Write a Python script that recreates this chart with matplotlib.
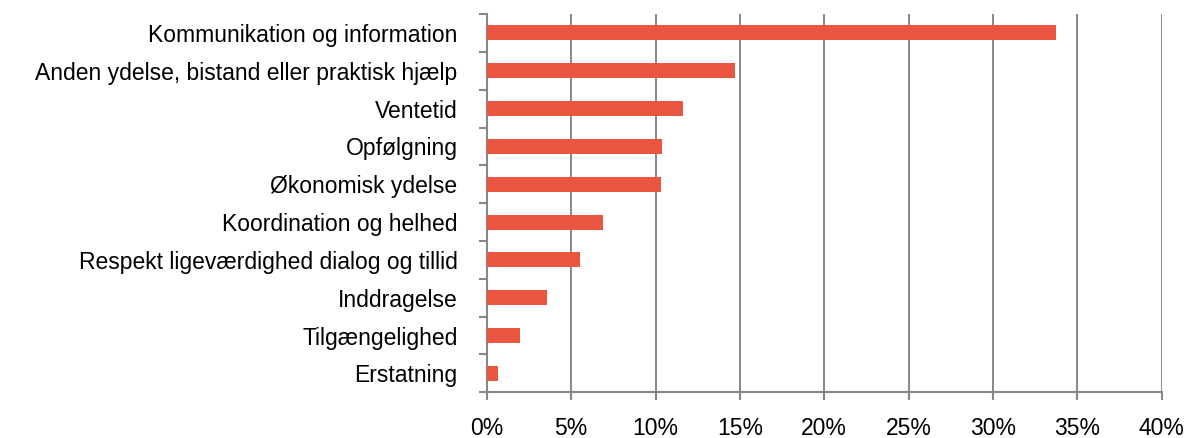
import numpy as np
import matplotlib.pyplot as plt
from matplotlib.ticker import FixedLocator

plt.rcParams['font.family'] = ['Liberation Sans', 'DejaVu Sans']

# Categories from top to bottom, share of answers in percent
categories = [
    'Kommunikation og information',
    'Anden ydelse, bistand eller praktisk hjælp',
    'Ventetid',
    'Opfølgning',
    'Økonomisk ydelse',
    'Koordination og helhed',
    'Respekt ligeværdighed dialog og tillid',
    'Inddragelse',
    'Tilgængelighed',
    'Erstatning',
]
values = [33.7, 14.7, 11.65, 10.4, 10.3, 6.9, 5.5, 3.6, 2.0, 0.65]
xticks = [0, 5, 10, 15, 20, 25, 30, 35, 40]

grey = '#878787'
bar_color = '#E9553F'

fig = plt.figure(figsize=(11.88, 4.38), dpi=100)
ax = fig.add_axes([0.4097, 0.1043, 0.978 - 0.4097, 0.968 - 0.1043])

y = np.arange(len(categories))[::-1]
ax.barh(y, values, height=0.4, color=bar_color, zorder=3)

ax.set_xlim(0, 40)
ax.set_ylim(-0.5, len(categories) - 0.5)

ax.set_xticks(xticks)
ax.set_xticklabels([f'{t}%' for t in xticks])
ax.grid(axis='x', color=grey, linewidth=1.4, zorder=0)

ax.set_yticks(y)
ax.set_yticklabels(categories)
ax.yaxis.set_minor_locator(FixedLocator(np.arange(-0.5, len(categories), 1.0)))

ax.tick_params(axis='y', which='major', length=0, pad=21, labelsize=16.5, colors='black')
ax.tick_params(axis='y', which='minor', length=6, width=1.5, color=grey)
ax.tick_params(axis='x', which='major', length=6, width=1.5, color=grey, pad=11.5,
               labelsize=16.5, labelcolor='black')

for side in ['top', 'right']:
    ax.spines[side].set_visible(False)
for side in ['left', 'bottom']:
    ax.spines[side].set_color(grey)
    ax.spines[side].set_linewidth(1.5)

fig.savefig('out.png', dpi=100)
